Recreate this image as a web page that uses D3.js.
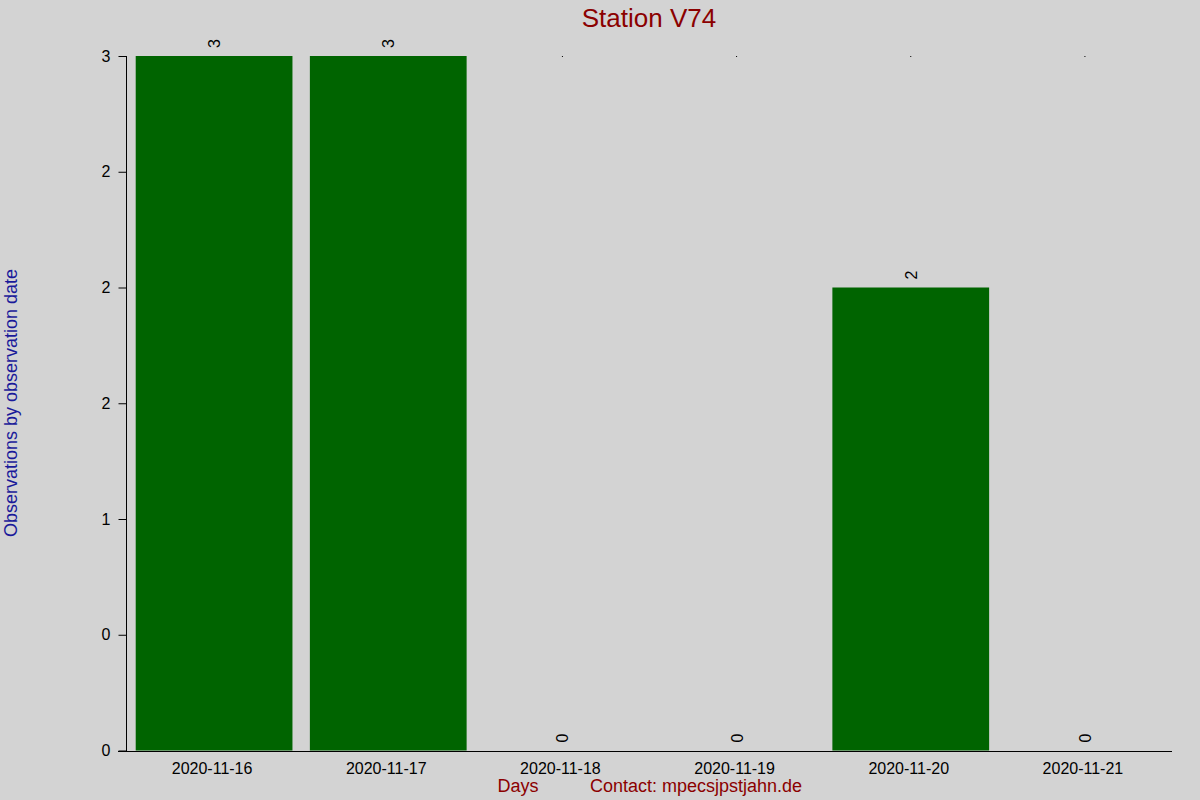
<!DOCTYPE html>
<html><head><meta charset="utf-8">
<script src="https://cdn.jsdelivr.net/npm/d3@7/dist/d3.min.js"></script>
<style>html,body{margin:0;padding:0;background:#d3d3d3;}svg{display:block;font-family:"Liberation Sans",Arial,sans-serif;}</style>
</head><body>
<svg id="c" width="1200" height="800"></svg>
<script>
const days = ["2020-11-16","2020-11-17","2020-11-18","2020-11-19","2020-11-20","2020-11-21"];
const counts = [3,3,0,0,2,0];
const yTickValues = [0,0.5,1,1.5,2,2.5,3];
const yTickLabels = ["0","0","1","2","2","2","3"];
const titleText = "Station V74";
const yTitle = "Observations by observation date";
const xTitle = "Days";
const contactText = "Contact: mpecsjpstjahn.de";

const svg = d3.select("#c");
svg.append("rect").attr("width",1200).attr("height",800).attr("fill","#d3d3d3");

const x = d3.scaleBand().domain(days).range([127,1172]).paddingInner(0.1).paddingOuter(0.05);
const y = d3.scaleLinear().domain([0,3]).range([750.5,56]);

// top dots (hidden under full bars)
svg.append("g").selectAll("rect").data(days).join("rect")
  .attr("x", d=>x(d)+x.bandwidth()/2-0.5).attr("y", y(3)).attr("width",1).attr("height",1).attr("fill","#000");

// bars
svg.append("g").selectAll("rect").data(days).join("rect")
  .attr("x", d=>x(d)).attr("width", x.bandwidth())
  .attr("y", (d,i)=>y(counts[i])).attr("height",(d,i)=>y(0)-y(counts[i]))
  .attr("fill","#006400");

// value labels
svg.append("g").selectAll("text").data(days).join("text")
  .attr("transform",(d,i)=>`translate(${x(d)+x.bandwidth()/2+6},${y(counts[i])-8}) rotate(-90)`)
  .attr("font-size",16).attr("fill","#000").attr("text-anchor","start")
  .text((d,i)=>counts[i]);

// y axis
const yAxis = d3.axisLeft(y).tickValues(yTickValues).tickSize(8).tickPadding(8)
  .tickFormat((d,i)=>yTickLabels[i]);
const gy = svg.append("g").attr("transform","translate(126.5,0)").call(yAxis);
gy.select(".domain").remove();
gy.append("line").attr("x1",0).attr("x2",0).attr("y1",y(3)).attr("y2",751).attr("stroke","#000");
gy.selectAll(".tick line").attr("stroke","#000");
gy.selectAll(".tick text").attr("font-size",16).attr("fill","#000").attr("font-family","Liberation Sans, Arial, sans-serif");

// x axis
const xAxis = d3.axisBottom(x).tickSize(0).tickPadding(12);
const gx = svg.append("g").attr("transform","translate(0,751)").call(xAxis);
gx.select(".domain").remove();
gx.append("line").attr("x1",118).attr("x2",1172).attr("y1",0.5).attr("y2",0.5).attr("stroke","#000");
gx.selectAll(".tick text").attr("font-size",16).attr("fill","#000").attr("font-family","Liberation Sans, Arial, sans-serif").attr("dx","-2");

// titles
svg.append("text").attr("x",649).attr("y",27).attr("text-anchor","middle").attr("font-size",26).attr("fill","#8b0000").text(titleText);
svg.append("text").attr("transform","translate(17,403) rotate(-90)").attr("text-anchor","middle").attr("font-size",18).attr("fill","#1a1a9a").text(yTitle);
svg.append("text").attr("x",518).attr("y",792).attr("text-anchor","middle").attr("font-size",18).attr("fill","#8b0000").text(xTitle);
svg.append("text").attr("x",590).attr("y",792).attr("text-anchor","start").attr("font-size",18).attr("fill","#8b0000").text(contactText);
</script>
</body></html>
